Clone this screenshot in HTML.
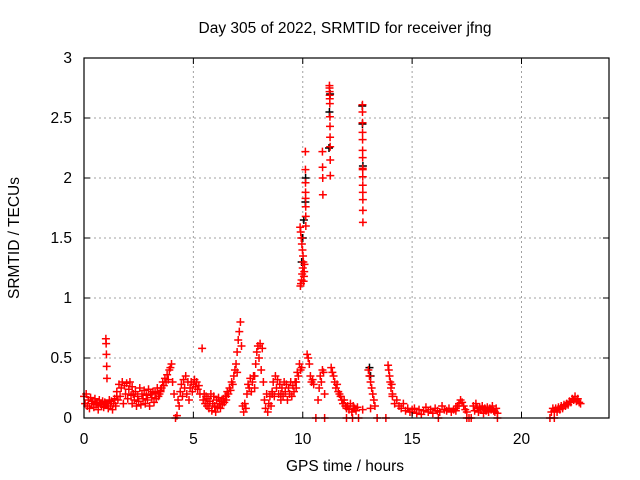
<!DOCTYPE html>
<html><head><meta charset="utf-8"><style>
body{margin:0;background:#fff;}
svg{display:block;font-family:"Liberation Sans",sans-serif;}
</style></head><body>
<svg id="chart" width="640" height="480">
<rect x="0" y="0" width="640" height="480" fill="#fff"/>
<g id="grid"></g>
<g id="marks"></g>
<rect x="84" y="58" width="525" height="360" fill="none" stroke="#000" stroke-width="1.2"/>
<g id="axes"></g>
<text x="345" y="33" font-size="15.5" text-anchor="middle">Day 305 of 2022, SRMTID for receiver jfng</text>
<text x="345" y="471" font-size="15.5" text-anchor="middle">GPS time / hours</text>
<text transform="translate(19,238) rotate(-90)" font-size="15.5" text-anchor="middle">SRMTID / TECUs</text>
</svg>
<script>
const xTicks=[0,5,10,15,20];
const yTicks=[0,0.5,1,1.5,2,2.5,3];
const yTickLabels=["0","0.5","1","1.5","2","2.5","3"];
// segments: start hour, end hour, values (evenly spaced in time)
const segStart=[0,1.0,1.06,1.5,2.2,3.5,4.05,4.3,4.85,5.4,5.45,6.5,7.0,7.25,7.45,7.8,8.25,8.6,9.0,9.7,9.88,10.12,10.2,10.6,10.7,10.9,11.22,11.0,11.3,12.0,12.05,12.73,12.74,13.0,13.1,13.4,13.8,13.9,14.1,15.0,16.2,17.0,17.5,17.8,18.9,21.3,21.5];
const segEnd=[1.0,1.05,1.5,2.2,3.5,4.0,4.25,4.8,5.3,5.4,6.5,7.0,7.2,7.4,7.8,8.2,8.6,9.0,9.7,9.95,10.08,10.14,10.5,10.6,11.0,10.92,11.26,11.0,12.0,12.55,12.5,12.75,12.74,13.3,13.1,13.4,13.8,14.1,15.0,17.0,16.2,17.5,17.7,18.9,18.9,21.5,22.7];
const segValues=[
[0.18,0.12,0.2,0.1,0.15,0.08,0.17,0.12,0.14,0.09,0.16,0.11,0.13,0.07,0.15,0.12,0.1,0.14,0.09,0.13,0.12],
[0.66,0.62,0.53,0.43,0.33],
[0.12,0.08,0.15,0.1,0.14,0.07,0.12,0.16,0.1,0.18],
[0.22,0.15,0.28,0.18,0.25,0.3,0.12,0.27,0.2,0.29,0.16,0.24,0.3,0.19,0.26],
[0.12,0.2,0.15,0.22,0.1,0.18,0.14,0.25,0.11,0.2,0.16,0.23,0.12,0.19,0.15,0.24,0.1,0.2,0.17,0.22,0.13,0.21,0.16,0.25,0.18,0.2,0.23],
[0.22,0.25,0.3,0.27,0.33,0.3,0.36,0.32,0.4,0.42,0.45],
[0.3,0.2,0,0.02],
[0.15,0.1,0.22,0.28,0.18,0.32,0.25,0.35,0.2,0.3,0.15],
[0.25,0.3,0.22,0.28,0.32,0.26,0.3,0.24,0.27,0.2],
[0.58],
[0.15,0.2,0.12,0.18,0.1,0.16,0.08,0.14,0.2,0.06,0.12,0.18,0.1,0.05,0.15,0.09,0.17,0.12,0.08,0.14,0.11,0.16,0.13,0.18,0.15],
[0.18,0.22,0.2,0.25,0.23,0.3,0.28,0.35,0.4,0.45,0.38],
[0.55,0.65,0.72,0.8,0.6],
[0.1,0.05,0.12,0.08],
[0.2,0.28,0.25,0.33,0.22,0.3,0.35,0.25],
[0.35,0.45,0.55,0.6,0.5,0.62,0.4,0.58,0.3],
[0.15,0.08,0.2,0.05,0.12,0.18,0.1,0.2],
[0.22,0.3,0.18,0.35,0.25,0.32,0.2,0.28,0.15],
[0.2,0.25,0.18,0.3,0.22,0.28,0.15,0.25,0.2,0.3,0.18,0.27,0.22,0.3,0.25],
[0.3,0.38,0.35,0.45,0.4,0.42],
[1.59,1.1,1.55,1.12,1.5,1.15,1.45,1.2,1.4,1.25,1.35,1.3,1.14,1.18,1.22,1.28],
[2.22,2.07,1.96,1.88,1.83,1.76,1.68,1.6],
[0.53,0.5,0.45,0.35,0.3,0.32,0.28],
[0],
[0.15,0.25,0.35,0.3,0.4,0.38,0.2],
[2.22,2.09,2.0,1.86],
[2.77,2.75,2.72,2.69,2.66,2.62,2.51,2.43,2.34,2.26,2.15,2.02],
[0],
[0.42,0.38,0.35,0.3,0.25,0.28,0.22,0.2,0.18,0.15,0.12,0.15,0.1,0.08],
[0,0,0],
[0.1,0.07,0.12,0.05,0.1,0.08,0.06,0.09],
[2.61,2.55,2.46,2.38,2.32,2.23,2.17,2.08,2.07,2.01,1.94,1.88,1.82,1.73,1.63],
[0.07],
[0.4,0.35,0.3,0.25,0.2,0.15,0.1],
[0.08],
[0],
[0],
[0.44,0.4,0.35,0.3,0.25,0.28,0.2],
[0.18,0.12,0.15,0.1,0.08,0.12,0.06,0.08,0.05,0.07],
[0.05,0.08,0.04,0.07,0.03,0.06,0.09,0.05,0.07,0.04,0.08,0.06,0.05,0.1,0.07,0.06,0.08,0.05,0.07,0.06],
[0],
[0.08,0.1,0.12,0.15,0.13,0.1,0.07,0.05],
[0,0,0],
[0.1,0.06,0.12,0.08,0.05,0.09,0.07,0.1,0.04,0.08,0.06,0.09,0.05,0.08,0.07,0.1,0.06,0.05,0.08,0.04],
[0],
[0,0.05,0.08,0],
[0.06,0.08,0.05,0.09,0.07,0.1,0.08,0.11,0.1,0.12,0.11,0.14,0.13,0.16,0.15,0.18,0.14,0.16,0.13,0.12]
];
const blackTimes=[9.95,10.0,10.05,10.12,10.13,11.2,11.22,11.25,12.72,12.73,12.75,13.05,13.1];
const blackValues=[1.3,1.5,1.65,1.8,2.0,2.25,2.55,2.7,2.6,2.45,2.1,0.42,0.35];

const X0=84,X1=609,Y0=418,Y1=58,XMAX=24,YMAX=3;
function xs(t){return X0+(X1-X0)*t/XMAX;}
function ys(v){return Y0-(Y0-Y1)*v/YMAX;}
const NS="http://www.w3.org/2000/svg";
const grid=document.getElementById('grid'),axes=document.getElementById('axes'),marks=document.getElementById('marks');
function mk(tag,attrs,parent){const e=document.createElementNS(NS,tag);for(const k in attrs)e.setAttribute(k,attrs[k]);parent.appendChild(e);return e;}
xTicks.forEach(t=>{
  const x=xs(t);
  if(t>0){const g=mk('line',{x1:x,y1:Y0,x2:x,y2:Y1,stroke:'#a0a0a0','stroke-dasharray':'2,3'},grid);
  
  }
  const a=mk('line',{x1:x,y1:Y0,x2:x,y2:Y0-6,stroke:'#000'},axes);
  
  
  const b=mk('line',{x1:x,y1:Y1,x2:x,y2:Y1+6,stroke:'#000'},axes);
  
  
  const l=mk('text',{x:x,y:444,'font-size':15.5,'text-anchor':'middle'},axes);l.textContent=String(t);
  
  
});
yTicks.forEach((v,i)=>{
  const y=ys(v);
  if(v>0&&v<3){const g=mk('line',{x1:X0,y1:y,x2:X1,y2:y,stroke:'#a0a0a0','stroke-dasharray':'2,3'},grid);
  
  }
  const a=mk('line',{x1:X0,y1:y,x2:X0+6,y2:y,stroke:'#000'},axes);
  
  
  const b=mk('line',{x1:X1,y1:y,x2:X1-6,y2:y,stroke:'#000'},axes);
  
  
  const l=mk('text',{x:72,y:y+5,'font-size':15.5,'text-anchor':'end'},axes);l.textContent=yTickLabels[i];
  
  
});
function plus(t,v,col,name){
  const x=xs(t),y=ys(v),s=4;
  const p=mk('path',{d:`M${x-s},${y}H${x+s}M${x},${y-s}V${y+s}`,stroke:col,'stroke-width':1.5,fill:'none'},marks);
  
  
}
blackTimes.forEach((t,i)=>plus(t,blackValues[i],'#000','black-point'));
segValues.forEach((vals,si)=>{
  const a=segStart[si],b=segEnd[si],n=vals.length;
  vals.forEach((v,j)=>{
    const t=n>1?a+(b-a)*j/(n-1):a;
    plus(t,v,'#ff0000','red-point');
  });
});
</script>
</body></html>
